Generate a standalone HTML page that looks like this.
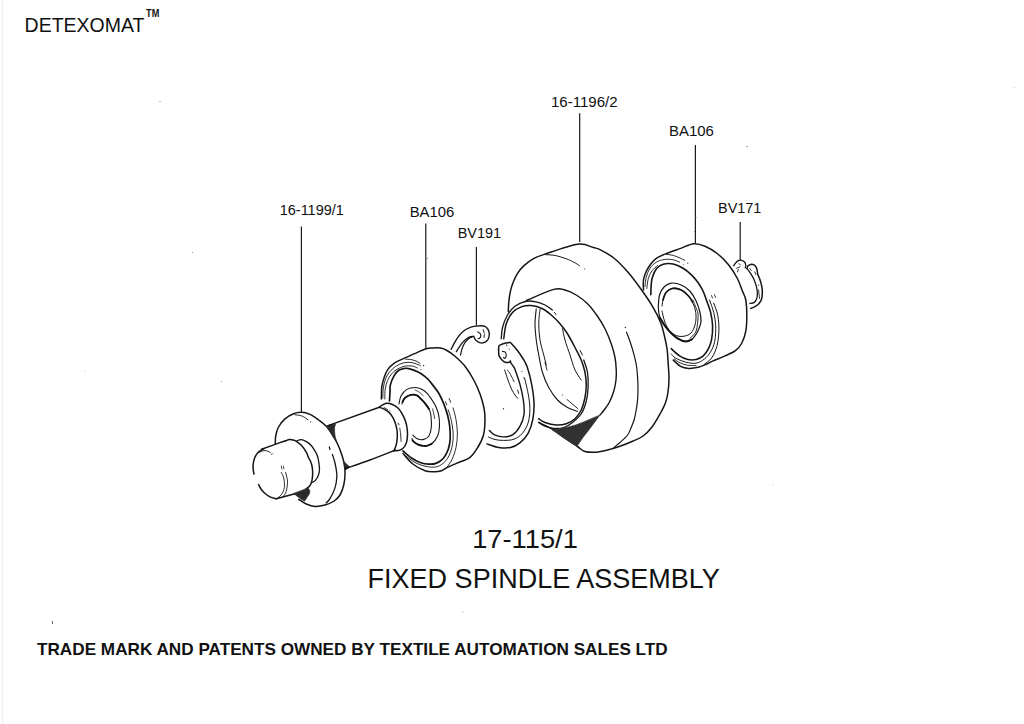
<!DOCTYPE html>
<html><head><meta charset="utf-8"><style>
html,body{margin:0;padding:0;background:#fff;}
body{width:1024px;height:724px;overflow:hidden;}
svg{display:block;}
text{font-family:"Liberation Sans",sans-serif;fill:#111;}
</style></head><body>
<svg width="1024" height="724" viewBox="0 0 1024 724">
<rect width="1024" height="724" fill="#fff"/>
<text id="t1" x="24.6" y="31.8" font-size="20" textLength="119.8" lengthAdjust="spacingAndGlyphs">DETEXOMAT</text>
<text id="t2" x="146.1" y="17.0" font-size="10" font-weight="bold" textLength="13.2" lengthAdjust="spacingAndGlyphs">TM</text>
<text id="t3" x="279.7" y="214.5" font-size="14" textLength="64.2" lengthAdjust="spacingAndGlyphs">16-1199/1</text>
<text id="t4" x="409.7" y="216.5" font-size="14" textLength="44.6" lengthAdjust="spacingAndGlyphs">BA106</text>
<text id="t5" x="457.7" y="237.5" font-size="14" textLength="43.5" lengthAdjust="spacingAndGlyphs">BV191</text>
<text id="t6" x="551.0" y="106.8" font-size="14" textLength="66.6" lengthAdjust="spacingAndGlyphs">16-1196/2</text>
<text id="t7" x="669.0" y="135.7" font-size="14" textLength="44.9" lengthAdjust="spacingAndGlyphs">BA106</text>
<text id="t8" x="718.0" y="213.0" font-size="14" textLength="43.4" lengthAdjust="spacingAndGlyphs">BV171</text>
<text id="t9" x="472.2" y="548" font-size="26.3" textLength="105.7" lengthAdjust="spacingAndGlyphs">17-115/1</text>
<text id="t10" x="367.6" y="588" font-size="27.3" textLength="352.2" lengthAdjust="spacingAndGlyphs">FIXED SPINDLE ASSEMBLY</text>
<text id="t11" x="37.0" y="655.2" font-size="17" font-weight="bold" textLength="630.7" lengthAdjust="spacingAndGlyphs">TRADE MARK AND PATENTS OWNED BY TEXTILE AUTOMATION SALES LTD</text>
<rect x="2" y="0" width="1.2" height="724" fill="#f1f1f1"/>
<path d="M301.40 226.50V412.00" stroke="#1a1a1a" stroke-width="1.20" fill="none"/>
<path d="M425.80 223.50V348.80" stroke="#1a1a1a" stroke-width="1.20" fill="none"/>
<path d="M476.40 247.00V325.80" stroke="#1a1a1a" stroke-width="1.20" fill="none"/>
<path d="M579.70 113.30V242.00" stroke="#1a1a1a" stroke-width="1.20" fill="none"/>
<path d="M695.40 145.00V243.30" stroke="#1a1a1a" stroke-width="1.20" fill="none"/>
<path d="M740.20 222.00V260.50" stroke="#1a1a1a" stroke-width="1.20" fill="none"/>
<path d="M263.75 448.75C262.79 449.38 259.52 450.96 258.00 452.50C256.48 454.04 255.42 455.92 254.60 458.00C253.78 460.08 253.30 462.83 253.10 465.00C252.90 467.17 253.25 469.50 253.40 471.00C253.55 472.50 253.90 473.50 254.00 474.00" fill="none" stroke="#151515" stroke-width="1.50" stroke-linecap="round" stroke-linejoin="round"/>
<path d="M258.50 484.50C258.92 485.25 260.00 487.58 261.00 489.00C262.00 490.42 263.00 491.68 264.50 493.00C266.00 494.32 268.04 495.94 270.00 496.90C271.96 497.86 275.21 498.44 276.25 498.75" fill="none" stroke="#151515" stroke-width="1.50" stroke-linecap="round" stroke-linejoin="round"/>
<path d="M276.25 498.75L295.00 493.75" fill="none" stroke="#151515" stroke-width="1.50" stroke-linecap="round" stroke-linejoin="round"/>
<path d="M261.50 449.30C264.58 448.18 276.08 443.98 280.00 442.60C283.92 441.22 284.17 441.27 285.00 441.00" fill="none" stroke="#151515" stroke-width="1.50" stroke-linecap="round" stroke-linejoin="round"/>
<path d="M281.25 472.50C281.67 473.42 283.23 475.50 283.75 478.00C284.27 480.50 284.77 484.75 284.40 487.50C284.02 490.25 282.65 492.75 281.50 494.50C280.35 496.25 278.17 497.42 277.50 498.00" fill="none" stroke="#151515" stroke-width="0.90" stroke-linecap="round" stroke-linejoin="round"/>
<path d="M285.60 472.50C285.92 473.96 287.39 478.12 287.50 481.25C287.61 484.38 286.98 488.64 286.25 491.25C285.52 493.86 283.62 495.96 283.10 496.90" fill="none" stroke="#151515" stroke-width="0.90" stroke-linecap="round" stroke-linejoin="round"/>
<path d="M281.20 466.20L281.90 469.00" fill="none" stroke="#151515" stroke-width="0.80" stroke-linecap="round" stroke-linejoin="round"/>
<path d="M283.30 466.00L284.00 468.80" fill="none" stroke="#151515" stroke-width="0.80" stroke-linecap="round" stroke-linejoin="round"/>
<path d="M258.75 452.50C259.62 452.18 262.46 450.82 264.00 450.60C265.54 450.38 266.92 450.83 268.00 451.20C269.08 451.57 270.08 452.53 270.50 452.80" fill="none" stroke="#151515" stroke-width="0.90" stroke-linecap="round" stroke-linejoin="round"/>
<circle cx="271.50" cy="454.50" r="0.50" fill="#333"/>
<circle cx="272.80" cy="453.80" r="0.50" fill="#333"/>
<path d="M285.00 441.00C285.80 440.77 288.30 439.72 289.80 439.60C291.30 439.48 292.78 439.93 294.00 440.30C295.22 440.67 295.77 440.85 297.10 441.80C298.43 442.75 300.45 444.25 302.00 446.00C303.55 447.75 305.32 450.38 306.40 452.30C307.48 454.22 307.82 456.00 308.50 457.50C309.18 459.00 309.92 459.88 310.50 461.30C311.08 462.72 311.65 464.38 312.00 466.00C312.35 467.62 312.52 469.25 312.60 471.00C312.68 472.75 312.68 474.62 312.50 476.50C312.32 478.38 312.00 480.68 311.50 482.30C311.00 483.93 310.40 485.18 309.50 486.25C308.60 487.32 306.67 488.29 306.10 488.70" fill="none" stroke="#151515" stroke-width="1.50" stroke-linecap="round" stroke-linejoin="round"/>
<path d="M296.60 441.10C297.33 440.85 299.37 439.52 301.00 439.60C302.63 439.68 304.69 440.62 306.40 441.60C308.11 442.58 309.78 443.87 311.25 445.50C312.72 447.13 314.16 449.65 315.20 451.40C316.24 453.15 316.90 454.18 317.50 456.00C318.10 457.82 318.47 460.03 318.80 462.30C319.13 464.57 319.58 467.40 319.50 469.60C319.42 471.80 318.98 473.70 318.30 475.50C317.62 477.30 316.37 479.27 315.40 480.40C314.43 481.53 312.98 481.98 312.50 482.30" fill="none" stroke="#151515" stroke-width="1.30" stroke-linecap="round" stroke-linejoin="round"/>
<path d="M293.50 493.40L300.00 491.00L308.20 487.90L309.90 490.80L309.50 493.70L307.00 497.50L304.50 501.20L301.50 499.50L298.70 497.40Z" fill="#2a2a2a" stroke="#2a2a2a" stroke-width="0.6" stroke-linejoin="round"/>
<path d="M275.30 443.80C275.37 442.50 275.17 438.80 275.70 436.00C276.23 433.20 276.95 429.85 278.50 427.00C280.05 424.15 282.50 421.10 285.00 418.90C287.50 416.70 290.75 414.90 293.50 413.80C296.25 412.70 298.75 412.20 301.50 412.30C304.25 412.40 307.12 413.12 310.00 414.40C312.88 415.68 316.04 418.02 318.75 420.00C321.46 421.98 323.96 423.75 326.25 426.25C328.54 428.75 330.62 432.08 332.50 435.00C334.38 437.92 335.93 440.42 337.50 443.75C339.07 447.08 340.75 451.46 341.90 455.00C343.05 458.54 343.88 461.67 344.40 465.00C344.92 468.33 345.11 471.67 345.00 475.00C344.89 478.33 344.58 481.67 343.75 485.00C342.92 488.33 341.67 492.29 340.00 495.00C338.33 497.71 336.25 499.58 333.75 501.25C331.25 502.92 328.12 504.14 325.00 505.00C321.88 505.86 318.12 506.57 315.00 506.40C311.88 506.23 308.96 505.15 306.25 504.00C303.54 502.85 300.00 500.25 298.75 499.50" fill="none" stroke="#151515" stroke-width="1.50" stroke-linecap="round" stroke-linejoin="round"/>
<path d="M332.40 454.50C332.83 455.92 334.27 459.78 335.00 463.00C335.73 466.22 336.58 470.63 336.80 473.80C337.02 476.97 336.63 479.57 336.30 482.00C335.97 484.43 335.52 486.23 334.80 488.40C334.08 490.57 332.97 493.07 332.00 495.00C331.03 496.93 329.98 498.68 329.00 500.00C328.02 501.32 326.58 502.42 326.10 502.90" fill="none" stroke="#151515" stroke-width="1.30" stroke-linecap="round" stroke-linejoin="round"/>
<path d="M329.30 446.80L330.00 449.50" fill="none" stroke="#151515" stroke-width="1.20" stroke-linecap="round" stroke-linejoin="round"/>
<path d="M295.00 414.80C296.17 415.00 299.83 415.17 302.00 416.00C304.17 416.83 307.00 419.17 308.00 419.80" fill="none" stroke="#151515" stroke-width="0.90" stroke-linecap="round" stroke-linejoin="round"/>
<circle cx="310.60" cy="421.90" r="0.60" fill="#333"/>
<path d="M326.60 425.80L330.50 424.80L335.60 423.90L334.60 427.50L334.60 432.00L335.20 436.50L336.20 440.20L334.00 437.80L331.80 433.80L329.40 430.00Z" fill="#2a2a2a" stroke="#2a2a2a" stroke-width="0.6" stroke-linejoin="round"/>
<path d="M343.75 461.25L347.50 465.00L350.00 466.90L345.60 470.00L344.40 466.25Z" fill="#2a2a2a" stroke="#2a2a2a" stroke-width="0.6" stroke-linejoin="round"/>
<path d="M328.10 425.60L379.30 407.30" fill="none" stroke="#151515" stroke-width="1.50" stroke-linecap="round" stroke-linejoin="round"/>
<path d="M345.60 468.50C349.67 467.08 361.68 463.08 370.00 460.00C378.32 456.92 391.25 451.67 395.50 450.00" fill="none" stroke="#151515" stroke-width="1.50" stroke-linecap="round" stroke-linejoin="round"/>
<path d="M379.30 407.30C379.68 406.98 380.38 406.07 381.60 405.40C382.82 404.73 384.80 403.45 386.60 403.30C388.40 403.15 390.47 403.67 392.40 404.50C394.33 405.33 396.55 406.70 398.20 408.30C399.85 409.90 401.07 411.90 402.30 414.10C403.53 416.30 404.77 418.88 405.60 421.50C406.43 424.12 407.02 427.03 407.30 429.80C407.58 432.57 407.58 435.60 407.30 438.10C407.02 440.60 406.43 443.00 405.60 444.80C404.77 446.60 403.53 447.93 402.30 448.90C401.07 449.87 399.58 450.32 398.20 450.60C396.82 450.88 394.70 450.60 394.00 450.60" fill="none" stroke="#151515" stroke-width="1.50" stroke-linecap="round" stroke-linejoin="round"/>
<path d="M379.30 407.30C380.10 407.60 382.48 408.25 384.10 409.10C385.72 409.95 387.48 410.88 389.00 412.40C390.52 413.92 392.02 415.98 393.20 418.20C394.38 420.42 395.42 423.22 396.10 425.70C396.78 428.18 397.17 430.48 397.30 433.10C397.43 435.72 397.17 439.18 396.90 441.40C396.63 443.62 396.18 444.87 395.70 446.40C395.22 447.93 394.28 449.90 394.00 450.60" fill="none" stroke="#151515" stroke-width="1.50" stroke-linecap="round" stroke-linejoin="round"/>
<path d="M398.20 423.20L399.00 425.00" fill="none" stroke="#151515" stroke-width="0.90" stroke-linecap="round" stroke-linejoin="round"/>
<path d="M399.80 428.20C399.93 429.17 400.38 431.80 400.60 434.00C400.82 436.20 401.02 440.17 401.10 441.40" fill="none" stroke="#151515" stroke-width="0.90" stroke-linecap="round" stroke-linejoin="round"/>
<circle cx="389.90" cy="410.80" r="0.60" fill="#333"/>
<path d="M384.00 407.50L387.50 409.50" fill="none" stroke="#151515" stroke-width="0.80" stroke-linecap="round" stroke-linejoin="round"/>
<path d="M381.40 399.00C381.40 398.75 381.33 399.55 381.40 397.50C381.47 395.45 381.35 390.00 381.80 386.70C382.25 383.40 383.12 380.55 384.10 377.70C385.08 374.85 386.05 372.00 387.70 369.60C389.35 367.20 391.47 365.08 394.00 363.30C396.53 361.52 399.57 360.47 402.90 358.90C406.23 357.33 410.25 355.55 414.00 353.90C417.75 352.25 422.23 349.98 425.40 349.00C428.57 348.02 430.47 348.15 433.00 348.00C435.53 347.85 438.27 347.68 440.60 348.10C442.93 348.52 444.60 349.14 447.00 350.50C449.40 351.86 452.00 353.62 455.00 356.25C458.00 358.88 461.88 362.29 465.00 366.25C468.12 370.21 471.25 375.38 473.75 380.00C476.25 384.62 478.29 389.33 480.00 394.00C481.71 398.67 483.17 403.67 484.00 408.00C484.83 412.33 485.08 415.50 485.00 420.00C484.92 424.50 484.67 430.50 483.50 435.00C482.33 439.50 480.25 443.28 478.00 447.00C475.75 450.72 473.52 454.62 470.00 457.30C466.48 459.98 460.68 461.42 456.90 463.10C453.12 464.78 449.87 466.12 447.30 467.40C444.73 468.68 443.60 470.07 441.50 470.80C439.40 471.53 437.45 471.80 434.70 471.80C431.95 471.80 428.70 472.14 425.00 470.80C421.30 469.46 416.17 466.63 412.50 463.75C408.83 460.87 404.58 455.21 403.00 453.50" fill="none" stroke="#151515" stroke-width="1.50" stroke-linecap="round" stroke-linejoin="round"/>
<path d="M389.50 401.00C389.58 399.50 389.85 394.68 390.00 392.00C390.15 389.32 389.73 387.58 390.40 384.90C391.07 382.22 392.67 378.30 394.00 375.90C395.33 373.50 396.62 371.77 398.40 370.50C400.18 369.23 402.85 368.58 404.70 368.30C406.55 368.02 407.78 368.42 409.50 368.80C411.22 369.18 413.05 369.78 415.00 370.60C416.95 371.42 419.13 372.35 421.20 373.70C423.27 375.05 425.33 376.63 427.40 378.70C429.47 380.77 431.73 383.72 433.60 386.10C435.47 388.48 437.15 390.62 438.60 393.00C440.05 395.38 441.18 397.90 442.30 400.40C443.42 402.90 444.38 405.40 445.30 408.00C446.22 410.60 447.07 412.95 447.80 416.00C448.53 419.05 449.30 422.48 449.70 426.30C450.10 430.12 450.45 435.03 450.20 438.90C449.95 442.77 449.33 446.28 448.20 449.50C447.07 452.72 445.33 455.93 443.40 458.20C441.47 460.47 439.02 462.10 436.60 463.10C434.18 464.10 431.67 464.30 428.90 464.20C426.13 464.10 422.90 463.53 420.00 462.50C417.10 461.47 414.33 459.92 411.50 458.00C408.67 456.08 404.42 452.17 403.00 451.00" fill="none" stroke="#151515" stroke-width="1.70" stroke-linecap="round" stroke-linejoin="round"/>
<path d="M382.80 398.00C382.88 396.33 382.85 391.17 383.30 388.00C383.75 384.83 384.47 381.67 385.50 379.00C386.53 376.33 387.83 374.08 389.50 372.00C391.17 369.92 393.25 368.00 395.50 366.50C397.75 365.00 400.42 363.67 403.00 363.00C405.58 362.33 408.50 362.25 411.00 362.50C413.50 362.75 416.42 363.92 418.00 364.50C419.58 365.08 420.08 365.75 420.50 366.00" fill="none" stroke="#151515" stroke-width="0.90" stroke-linecap="round" stroke-linejoin="round"/>
<path d="M384.80 399.00C384.87 397.33 384.73 392.08 385.20 389.00C385.67 385.92 386.55 383.00 387.60 380.50C388.65 378.00 389.93 375.87 391.50 374.00C393.07 372.13 394.83 370.60 397.00 369.30C399.17 368.00 402.00 366.75 404.50 366.20C407.00 365.65 409.83 365.70 412.00 366.00C414.17 366.30 416.58 367.67 417.50 368.00" fill="none" stroke="#151515" stroke-width="0.90" stroke-linecap="round" stroke-linejoin="round"/>
<path d="M405.60 359.30C406.50 359.35 409.27 359.32 411.00 359.60C412.73 359.88 414.50 360.38 416.00 361.00C417.50 361.62 419.33 362.92 420.00 363.30" fill="none" stroke="#151515" stroke-width="0.90" stroke-linecap="round" stroke-linejoin="round"/>
<circle cx="423.60" cy="365.50" r="0.70" fill="#333"/>
<circle cx="420.80" cy="369.50" r="0.60" fill="#333"/>
<path d="M448.20 409.80C448.68 411.42 450.28 415.78 451.10 419.50C451.92 423.22 452.85 428.07 453.10 432.10C453.35 436.13 453.25 439.83 452.60 443.70C451.95 447.57 450.73 452.07 449.20 455.30C447.67 458.53 445.67 461.15 443.40 463.10C441.13 465.05 438.67 466.48 435.60 467.00C432.53 467.52 428.43 466.95 425.00 466.20C421.57 465.45 418.17 464.20 415.00 462.50C411.83 460.80 407.50 457.08 406.00 456.00" fill="none" stroke="#151515" stroke-width="0.90" stroke-linecap="round" stroke-linejoin="round"/>
<path d="M453.10 407.90C453.58 409.83 455.28 415.15 456.00 419.50C456.72 423.85 457.40 429.32 457.40 434.00C457.40 438.68 456.88 443.40 456.00 447.60C455.12 451.80 453.55 455.97 452.10 459.20C450.65 462.43 448.10 465.70 447.30 467.00" fill="none" stroke="#151515" stroke-width="0.90" stroke-linecap="round" stroke-linejoin="round"/>
<path d="M445.50 401.70L446.70 404.80" fill="none" stroke="#151515" stroke-width="0.90" stroke-linecap="round" stroke-linejoin="round"/>
<path d="M449.20 398.60L450.70 402.30" fill="none" stroke="#151515" stroke-width="0.90" stroke-linecap="round" stroke-linejoin="round"/>
<path d="M399.00 403.90C399.33 402.57 399.68 398.32 401.00 395.90C402.32 393.48 404.58 390.80 406.90 389.40C409.22 388.00 412.42 387.53 414.90 387.50C417.38 387.47 419.72 388.18 421.80 389.20C423.88 390.22 425.73 391.83 427.40 393.60C429.07 395.37 430.43 397.73 431.80 399.80C433.17 401.87 434.47 403.52 435.60 406.00C436.73 408.48 437.95 411.32 438.60 414.70C439.25 418.08 439.67 422.75 439.50 426.30C439.33 429.85 438.88 433.10 437.60 436.00C436.32 438.90 433.90 442.08 431.80 443.70C429.70 445.32 427.15 445.55 425.00 445.70C422.85 445.85 420.75 445.28 418.90 444.60C417.05 443.92 415.07 442.60 413.90 441.60C412.73 440.60 412.23 439.10 411.90 438.60" fill="none" stroke="#151515" stroke-width="1.10" stroke-linecap="round" stroke-linejoin="round"/>
<path d="M412.50 440.50C413.08 441.00 414.58 442.65 416.00 443.50C417.42 444.35 419.17 445.22 421.00 445.60C422.83 445.98 425.17 446.15 427.00 445.80C428.83 445.45 431.17 443.88 432.00 443.50" fill="none" stroke="#151515" stroke-width="1.80" stroke-linecap="round" stroke-linejoin="round"/>
<path d="M415.00 389.90C415.73 390.30 418.05 391.37 419.40 392.30C420.75 393.23 422.48 394.97 423.10 395.50" fill="none" stroke="#151515" stroke-width="0.80" stroke-linecap="round" stroke-linejoin="round"/>
<path d="M432.70 408.90L434.70 418.50" fill="none" stroke="#151515" stroke-width="0.80" stroke-linecap="round" stroke-linejoin="round"/>
<path d="M402.00 403.90C402.48 402.90 403.42 399.40 404.90 397.90C406.38 396.40 408.90 395.32 410.90 394.90C412.90 394.48 415.18 394.68 416.90 395.40C418.62 396.12 419.65 397.63 421.20 399.20C422.75 400.77 424.85 403.05 426.20 404.80C427.55 406.55 428.53 408.05 429.30 409.70C430.07 411.35 430.47 411.77 430.80 414.70C431.13 417.63 431.62 423.75 431.30 427.30C430.98 430.85 430.15 433.98 428.90 436.00C427.65 438.02 425.63 438.88 423.80 439.40C421.97 439.92 419.72 439.80 417.90 439.10C416.08 438.40 413.73 435.85 412.90 435.20" fill="none" stroke="#151515" stroke-width="1.10" stroke-linecap="round" stroke-linejoin="round"/>
<path d="M402.50 402.00C402.90 401.32 403.50 399.08 404.90 397.90C406.30 396.72 408.90 395.32 410.90 394.90C412.90 394.48 415.18 394.68 416.90 395.40C418.62 396.12 419.65 397.63 421.20 399.20C422.75 400.77 424.90 403.17 426.20 404.80C427.50 406.43 428.53 408.30 429.00 409.00" fill="none" stroke="#151515" stroke-width="1.90" stroke-linecap="round" stroke-linejoin="round"/>
<path d="M451.20 349.30C451.78 348.15 453.35 344.72 454.70 342.40C456.05 340.08 457.65 337.43 459.30 335.40C460.95 333.37 462.75 331.55 464.60 330.20C466.45 328.85 468.47 327.98 470.40 327.30C472.33 326.62 474.47 326.35 476.20 326.10C477.93 325.85 479.35 325.75 480.80 325.80C482.25 325.85 483.73 325.87 484.90 326.40C486.07 326.93 487.08 327.88 487.80 329.00C488.52 330.12 489.02 331.75 489.20 333.10C489.38 334.45 489.23 335.85 488.90 337.10C488.57 338.35 488.07 339.67 487.20 340.60C486.33 341.53 484.97 342.35 483.70 342.70C482.43 343.05 480.85 343.05 479.60 342.70C478.35 342.35 477.07 341.40 476.20 340.60C475.33 339.80 474.83 338.62 474.40 337.90C473.97 337.18 473.73 336.57 473.60 336.30" fill="none" stroke="#151515" stroke-width="1.40" stroke-linecap="round" stroke-linejoin="round"/>
<path d="M473.60 336.30C473.07 336.35 471.62 336.17 470.40 336.60C469.18 337.03 467.67 337.85 466.30 338.90C464.93 339.95 463.45 341.45 462.20 342.90C460.95 344.35 459.77 346.15 458.80 347.60C457.83 349.05 456.80 350.93 456.40 351.60" fill="none" stroke="#151515" stroke-width="1.30" stroke-linecap="round" stroke-linejoin="round"/>
<path d="M472.00 337.20C471.53 337.38 470.35 337.43 469.20 338.30C468.05 339.17 466.27 340.75 465.10 342.40C463.93 344.05 462.97 346.08 462.20 348.20C461.43 350.32 460.78 353.95 460.50 355.10" fill="none" stroke="#151515" stroke-width="1.20" stroke-linecap="round" stroke-linejoin="round"/>
<path d="M477.60 331.90C478.00 332.15 479.47 332.72 480.00 333.40C480.53 334.08 480.83 335.23 480.80 336.00C480.77 336.77 480.23 337.57 479.80 338.00C479.37 338.43 478.47 338.50 478.20 338.60" fill="none" stroke="#151515" stroke-width="1.10" stroke-linecap="round" stroke-linejoin="round"/>
<path d="M483.10 329.60L484.30 333.10" fill="none" stroke="#151515" stroke-width="0.90" stroke-linecap="round" stroke-linejoin="round"/>
<path d="M484.40 334.50L484.00 337.50" fill="none" stroke="#151515" stroke-width="0.90" stroke-linecap="round" stroke-linejoin="round"/>
<path d="M498.60 349.40C498.67 348.80 498.70 346.55 499.00 345.80C499.30 345.05 499.25 345.35 500.40 344.90C501.55 344.45 504.30 343.52 505.90 343.10C507.50 342.68 509.08 342.33 510.00 342.40C510.92 342.47 510.13 342.12 511.40 343.50C512.67 344.88 515.63 348.12 517.60 350.70C519.57 353.28 521.58 356.23 523.20 359.00C524.82 361.77 525.90 363.12 527.30 367.30C528.70 371.48 530.48 378.17 531.60 384.10C532.72 390.03 533.80 397.03 534.00 402.90C534.20 408.77 533.78 414.22 532.80 419.30C531.82 424.38 530.25 429.48 528.10 433.40C525.95 437.32 522.83 440.45 519.90 442.80C516.97 445.15 514.02 446.72 510.50 447.50C506.98 448.28 502.72 448.10 498.80 447.50C494.88 446.90 488.97 444.50 487.00 443.90" fill="none" stroke="#151515" stroke-width="1.50" stroke-linecap="round" stroke-linejoin="round"/>
<path d="M498.60 349.40C498.62 350.00 498.63 351.97 498.70 353.00C498.77 354.03 498.50 354.48 499.00 355.60C499.50 356.72 500.55 358.55 501.70 359.70C502.85 360.85 504.63 362.10 505.90 362.50C507.17 362.90 508.55 362.33 509.30 362.10C510.05 361.87 510.22 361.27 510.40 361.10" fill="none" stroke="#151515" stroke-width="1.50" stroke-linecap="round" stroke-linejoin="round"/>
<path d="M510.40 361.10C510.48 361.38 510.38 361.88 510.90 362.80C511.42 363.72 512.78 365.40 513.50 366.60C514.22 367.80 514.13 367.08 515.20 370.00C516.27 372.92 518.53 379.02 519.90 384.10C521.27 389.18 522.72 395.42 523.40 400.50C524.08 405.58 524.58 410.30 524.00 414.60C523.42 418.90 521.75 422.97 519.90 426.30C518.05 429.63 515.63 432.83 512.90 434.60C510.17 436.37 506.63 436.90 503.50 436.90C500.37 436.90 496.45 435.68 494.10 434.60C491.75 433.52 490.18 431.10 489.40 430.40" fill="none" stroke="#151515" stroke-width="1.40" stroke-linecap="round" stroke-linejoin="round"/>
<path d="M524.60 378.20C525.18 380.75 527.22 388.42 528.10 393.50C528.98 398.58 529.90 403.82 529.90 408.70C529.90 413.58 529.37 418.68 528.10 422.80C526.83 426.92 524.65 430.67 522.30 433.40C519.95 436.13 517.13 438.03 514.00 439.20C510.87 440.37 506.67 440.35 503.50 440.40C500.33 440.45 497.50 440.07 495.00 439.50C492.50 438.93 489.58 437.42 488.50 437.00" fill="none" stroke="#151515" stroke-width="1.00" stroke-linecap="round" stroke-linejoin="round"/>
<path d="M502.40 351.40C502.87 351.52 504.57 351.40 505.20 352.10C505.83 352.80 506.25 354.57 506.20 355.60C506.15 356.63 505.35 357.97 504.90 358.30C504.45 358.63 503.73 357.72 503.50 357.60" fill="none" stroke="#151515" stroke-width="1.10" stroke-linecap="round" stroke-linejoin="round"/>
<circle cx="509.30" cy="349.00" r="0.60" fill="#333"/>
<circle cx="521.80" cy="371.50" r="0.60" fill="#333"/>
<circle cx="523.90" cy="377.70" r="0.60" fill="#333"/>
<path d="M506.60 344.80L506.90 345.90" fill="none" stroke="#151515" stroke-width="0.80" stroke-linecap="round" stroke-linejoin="round"/>
<path d="M504.60 370.00C505.17 371.67 506.85 376.83 508.00 380.00C509.15 383.17 510.33 386.50 511.50 389.00C512.67 391.50 513.98 393.47 515.00 395.00C516.02 396.53 517.17 397.67 517.60 398.20" fill="none" stroke="#151515" stroke-width="1.00" stroke-linecap="round" stroke-linejoin="round"/>
<path d="M507.30 370.10C507.63 370.47 508.55 371.15 509.30 372.30C510.05 373.45 511.02 375.43 511.80 377.00C512.58 378.57 513.63 380.92 514.00 381.70" fill="none" stroke="#151515" stroke-width="0.90" stroke-linecap="round" stroke-linejoin="round"/>
<path d="M517.60 390.00L518.70 393.50" fill="none" stroke="#151515" stroke-width="0.90" stroke-linecap="round" stroke-linejoin="round"/>
<circle cx="503.50" cy="408.70" r="0.70" fill="#333"/>
<path d="M508.30 311.80C508.38 310.15 508.43 305.40 508.80 301.90C509.17 298.40 509.75 294.12 510.50 290.80C511.25 287.48 512.10 284.95 513.30 282.00C514.50 279.05 515.87 275.87 517.70 273.10C519.53 270.33 521.73 267.78 524.30 265.40C526.87 263.02 529.78 260.63 533.10 258.80C536.42 256.97 536.78 256.83 544.20 254.40C551.62 251.97 569.40 245.33 577.60 244.20C585.80 243.07 589.67 246.68 593.40 247.60C597.13 248.52 596.60 247.97 600.00 249.70C603.40 251.43 609.20 254.32 613.80 258.00C618.40 261.68 623.00 266.52 627.60 271.80C632.20 277.08 637.25 283.95 641.40 289.70C645.55 295.45 649.27 300.77 652.50 306.30C655.73 311.83 658.73 317.62 660.80 322.90C662.87 328.18 663.83 333.48 664.90 338.00C665.97 342.52 666.67 345.92 667.20 350.00C667.73 354.08 667.80 357.83 668.10 362.50C668.40 367.17 669.02 373.08 669.00 378.00C668.98 382.92 668.57 387.92 668.00 392.00C667.43 396.08 666.93 398.83 665.60 402.50C664.27 406.17 662.27 409.92 660.00 414.00C657.73 418.08 654.82 423.33 652.00 427.00C649.18 430.67 646.35 433.62 643.10 436.00C639.85 438.38 636.35 439.54 632.50 441.25C628.65 442.96 624.17 444.79 620.00 446.25C615.83 447.71 611.46 449.01 607.50 450.00C603.54 450.99 600.00 451.95 596.25 452.20C592.50 452.45 588.12 452.45 585.00 451.50C581.88 450.55 580.67 448.58 577.50 446.50C574.33 444.42 569.96 441.75 566.00 439.00C562.04 436.25 557.25 432.25 553.75 430.00C550.25 427.75 547.50 426.78 545.00 425.50C542.50 424.22 539.79 422.83 538.75 422.30" fill="none" stroke="#151515" stroke-width="1.50" stroke-linecap="round" stroke-linejoin="round"/>
<path d="M544.80 254.60C546.53 254.75 551.62 254.80 555.20 255.50C558.78 256.20 563.17 257.67 566.30 258.80C569.43 259.93 571.82 261.17 574.00 262.30C576.18 263.43 578.50 265.05 579.40 265.60" fill="none" stroke="#151515" stroke-width="1.00" stroke-linecap="round" stroke-linejoin="round"/>
<circle cx="584.60" cy="269.00" r="0.60" fill="#333"/>
<path d="M526.25 300.50C530.83 298.65 547.29 291.15 553.75 289.40C560.21 287.65 561.25 289.07 565.00 290.00C568.75 290.93 572.50 292.71 576.25 295.00C580.00 297.29 583.96 300.21 587.50 303.75C591.04 307.29 594.58 312.08 597.50 316.25C600.42 320.42 602.71 324.17 605.00 328.75C607.29 333.33 609.58 338.96 611.25 343.75C612.92 348.54 614.17 353.12 615.00 357.50C615.83 361.88 616.08 366.25 616.25 370.00C616.42 373.75 616.41 376.50 616.00 380.00C615.59 383.50 614.88 387.33 613.80 391.00C612.72 394.67 611.05 398.92 609.50 402.00C607.95 405.08 606.07 407.35 604.50 409.50C602.93 411.65 600.83 414.00 600.10 414.90" fill="none" stroke="#151515" stroke-width="1.40" stroke-linecap="round" stroke-linejoin="round"/>
<path d="M501.25 338.75C501.46 336.88 501.46 331.46 502.50 327.50C503.54 323.54 505.42 318.54 507.50 315.00C509.58 311.46 511.88 308.54 515.00 306.25C518.12 303.96 522.71 301.98 526.25 301.25C529.79 300.52 533.12 301.27 536.25 301.90C539.38 302.52 542.29 303.65 545.00 305.00C547.71 306.35 551.25 309.17 552.50 310.00" fill="none" stroke="#151515" stroke-width="1.30" stroke-linecap="round" stroke-linejoin="round"/>
<path d="M554.50 312.50L556.00 314.50" fill="none" stroke="#151515" stroke-width="1.00" stroke-linecap="round" stroke-linejoin="round"/>
<path d="M580.00 350.50L582.50 355.00" fill="none" stroke="#151515" stroke-width="1.00" stroke-linecap="round" stroke-linejoin="round"/>
<path d="M583.75 360.00C584.38 362.08 586.77 367.92 587.50 372.50C588.23 377.08 588.31 382.71 588.10 387.50C587.89 392.29 587.39 396.88 586.25 401.25C585.11 405.62 583.54 410.21 581.25 413.75C578.96 417.29 575.42 420.21 572.50 422.50C569.58 424.79 566.88 426.53 563.75 427.50C560.62 428.47 556.88 428.51 553.75 428.30C550.62 428.09 547.50 427.22 545.00 426.25C542.50 425.28 539.79 423.12 538.75 422.50" fill="none" stroke="#151515" stroke-width="1.30" stroke-linecap="round" stroke-linejoin="round"/>
<path d="M503.75 338.75C504.17 336.25 504.79 328.12 506.25 323.75C507.71 319.38 510.00 315.31 512.50 312.50C515.00 309.69 518.12 308.05 521.25 306.90C524.38 305.75 527.71 305.29 531.25 305.60C534.79 305.91 539.17 307.18 542.50 308.75C545.83 310.32 548.33 312.50 551.25 315.00C554.17 317.50 557.29 320.62 560.00 323.75C562.71 326.88 565.00 329.79 567.50 333.75C570.00 337.71 572.71 343.12 575.00 347.50C577.29 351.88 579.58 355.83 581.25 360.00C582.92 364.17 584.17 368.33 585.00 372.50C585.83 376.67 586.25 380.83 586.25 385.00C586.25 389.17 585.83 393.33 585.00 397.50C584.17 401.67 582.92 406.46 581.25 410.00C579.58 413.54 577.50 416.46 575.00 418.75C572.50 421.04 569.38 422.71 566.25 423.75C563.12 424.79 559.79 425.21 556.25 425.00C552.71 424.79 547.92 423.54 545.00 422.50C542.08 421.46 539.79 419.38 538.75 418.75" fill="none" stroke="#151515" stroke-width="1.50" stroke-linecap="round" stroke-linejoin="round"/>
<path d="M536.25 308.75C536.04 311.25 535.00 318.54 535.00 323.75C535.00 328.96 535.62 334.79 536.25 340.00C536.88 345.21 537.71 349.58 538.75 355.00C539.79 360.42 540.83 367.08 542.50 372.50C544.17 377.92 546.25 382.92 548.75 387.50C551.25 392.08 554.38 396.67 557.50 400.00C560.62 403.33 564.17 405.62 567.50 407.50C570.83 409.38 575.83 410.67 577.50 411.30" fill="none" stroke="#151515" stroke-width="1.10" stroke-linecap="round" stroke-linejoin="round"/>
<path d="M540.00 309.40C539.79 311.79 538.75 318.65 538.75 323.75C538.75 328.85 539.17 334.79 540.00 340.00C540.83 345.21 542.71 350.83 543.75 355.00C544.79 359.17 545.83 363.33 546.25 365.00" fill="none" stroke="#151515" stroke-width="1.00" stroke-linecap="round" stroke-linejoin="round"/>
<path d="M562.50 328.75C562.92 330.62 563.75 335.62 565.00 340.00C566.25 344.38 568.33 350.00 570.00 355.00C571.67 360.00 573.12 365.83 575.00 370.00C576.88 374.17 580.21 378.33 581.25 380.00" fill="none" stroke="#151515" stroke-width="1.00" stroke-linecap="round" stroke-linejoin="round"/>
<path d="M567.00 399.50L578.00 408.75" fill="none" stroke="#151515" stroke-width="0.90" stroke-linecap="round" stroke-linejoin="round"/>
<path d="M545.00 362.50L547.00 370.00" fill="none" stroke="#151515" stroke-width="0.90" stroke-linecap="round" stroke-linejoin="round"/>
<circle cx="562.50" cy="395.00" r="0.60" fill="#333"/>
<circle cx="625.40" cy="327.50" r="0.80" fill="#333"/>
<path d="M626.50 332.10C627.17 333.92 629.22 339.13 630.50 343.00C631.78 346.87 633.20 351.47 634.20 355.30C635.20 359.13 635.93 362.32 636.50 366.00C637.07 369.68 637.35 373.73 637.60 377.40C637.85 381.07 638.00 384.30 638.00 388.00C638.00 391.70 637.90 395.93 637.60 399.60C637.30 403.27 636.77 406.68 636.20 410.00C635.63 413.32 635.07 416.50 634.20 419.50C633.33 422.50 632.10 425.42 631.00 428.00C629.90 430.58 629.43 432.58 627.60 435.00C625.77 437.42 622.27 440.42 620.00 442.50C617.73 444.58 615.00 446.67 614.00 447.50" fill="none" stroke="#151515" stroke-width="1.20" stroke-linecap="round" stroke-linejoin="round"/>
<path d="M552.00 429.80L560.00 428.60L568.00 427.00L575.00 425.20L581.00 423.00L590.00 419.20L600.10 414.90L590.00 428.50L583.00 437.50L576.90 446.40L566.00 439.00Z" fill="#313131" stroke="#313131" stroke-width="0.6" stroke-linejoin="round"/>
<path d="M643.50 290.00C643.47 288.72 643.20 284.42 643.30 282.30C643.40 280.18 643.55 279.23 644.10 277.30C644.65 275.37 645.48 272.92 646.60 270.70C647.72 268.48 649.13 266.08 650.80 264.00C652.47 261.92 654.25 259.85 656.60 258.20C658.95 256.55 661.00 255.70 664.90 254.10C668.80 252.50 675.19 250.32 680.00 248.60C684.81 246.88 689.58 244.14 693.75 243.75C697.92 243.36 701.04 244.58 705.00 246.25C708.96 247.92 713.54 250.62 717.50 253.75C721.46 256.88 725.42 260.83 728.75 265.00C732.08 269.17 735.21 274.38 737.50 278.75C739.79 283.12 741.12 287.71 742.50 291.25C743.88 294.79 745.08 295.96 745.80 300.00C746.52 304.04 746.80 310.32 746.80 315.50C746.80 320.68 746.67 326.43 745.80 331.10C744.93 335.77 743.33 340.23 741.60 343.50C739.87 346.77 738.15 348.63 735.40 350.70C732.65 352.77 728.90 354.17 725.10 355.90C721.30 357.63 715.72 359.72 712.60 361.10C709.48 362.48 708.82 363.17 706.40 364.20C703.98 365.23 701.03 366.60 698.10 367.30C695.17 368.00 691.73 368.57 688.80 368.40C685.87 368.23 683.08 367.68 680.50 366.30C677.92 364.92 674.50 361.13 673.30 360.10" fill="none" stroke="#151515" stroke-width="1.50" stroke-linecap="round" stroke-linejoin="round"/>
<path d="M650.80 294.70C650.87 293.08 650.93 287.90 651.20 285.00C651.47 282.10 651.50 280.05 652.40 277.30C653.30 274.55 654.80 270.67 656.60 268.50C658.40 266.33 660.45 265.05 663.20 264.30C665.95 263.55 669.78 263.35 673.10 264.00C676.42 264.65 680.05 266.40 683.10 268.20C686.15 270.00 688.92 272.42 691.40 274.80C693.88 277.18 696.07 279.80 698.00 282.50C699.93 285.20 701.60 288.08 703.00 291.00C704.40 293.92 705.13 296.43 706.40 300.00C707.67 303.57 709.57 308.08 710.60 312.40C711.63 316.72 712.43 321.40 712.60 325.90C712.77 330.40 712.28 335.60 711.60 339.40C710.92 343.20 709.88 345.95 708.50 348.70C707.12 351.45 705.37 354.10 703.30 355.90C701.23 357.70 698.68 358.90 696.10 359.50C693.52 360.10 690.57 360.10 687.80 359.50C685.03 358.90 682.27 357.70 679.50 355.90C676.73 354.10 672.58 349.90 671.20 348.70" fill="none" stroke="#151515" stroke-width="1.60" stroke-linecap="round" stroke-linejoin="round"/>
<path d="M645.00 286.40C645.20 284.88 645.37 280.33 646.20 277.30C647.03 274.27 648.27 270.75 650.00 268.20C651.73 265.65 654.12 263.47 656.60 262.00C659.08 260.53 662.15 259.77 664.90 259.40C667.65 259.03 670.62 259.33 673.10 259.80C675.58 260.27 678.68 261.80 679.80 262.20" fill="none" stroke="#151515" stroke-width="0.90" stroke-linecap="round" stroke-linejoin="round"/>
<path d="M646.80 288.50C647.05 286.83 647.47 281.42 648.30 278.50C649.13 275.58 650.27 273.15 651.80 271.00C653.33 268.85 656.55 266.50 657.50 265.60" fill="none" stroke="#151515" stroke-width="0.90" stroke-linecap="round" stroke-linejoin="round"/>
<path d="M666.50 254.50C667.25 254.57 669.48 254.62 671.00 254.90C672.52 255.18 674.10 255.68 675.60 256.20C677.10 256.72 678.48 257.32 680.00 258.00C681.52 258.68 683.92 259.92 684.70 260.30" fill="none" stroke="#151515" stroke-width="0.90" stroke-linecap="round" stroke-linejoin="round"/>
<path d="M709.50 300.00C710.20 302.07 712.67 308.08 713.70 312.40C714.73 316.72 715.53 321.07 715.70 325.90C715.87 330.73 715.55 337.08 714.70 341.40C713.85 345.72 712.32 348.87 710.60 351.80C708.88 354.73 706.82 357.10 704.40 359.00C701.98 360.90 699.22 362.68 696.10 363.20C692.98 363.72 689.15 362.97 685.70 362.10C682.25 361.23 677.82 359.37 675.40 358.00C672.98 356.63 671.90 354.58 671.20 353.90" fill="none" stroke="#151515" stroke-width="1.00" stroke-linecap="round" stroke-linejoin="round"/>
<path d="M713.70 303.10C714.38 305.17 716.93 310.83 717.80 315.50C718.67 320.17 719.07 325.92 718.90 331.10C718.73 336.28 718.02 342.12 716.80 346.60C715.58 351.08 713.67 355.07 711.60 358.00C709.53 360.93 705.60 363.17 704.40 364.20" fill="none" stroke="#151515" stroke-width="1.00" stroke-linecap="round" stroke-linejoin="round"/>
<path d="M674.30 359.00C675.25 359.63 677.72 361.75 680.00 362.80C682.28 363.85 685.33 364.85 688.00 365.30C690.67 365.75 694.67 365.47 696.00 365.50" fill="none" stroke="#151515" stroke-width="0.90" stroke-linecap="round" stroke-linejoin="round"/>
<path d="M711.50 295.50L712.50 298.00" fill="none" stroke="#151515" stroke-width="0.80" stroke-linecap="round" stroke-linejoin="round"/>
<path d="M714.50 294.50L715.50 297.50" fill="none" stroke="#151515" stroke-width="0.80" stroke-linecap="round" stroke-linejoin="round"/>
<path d="M658.30 306.40C658.50 304.50 658.55 298.23 659.50 295.00C660.45 291.77 662.04 288.98 664.00 287.00C665.96 285.02 668.38 283.43 671.25 283.10C674.12 282.77 678.12 283.64 681.25 285.00C684.38 286.36 687.50 288.54 690.00 291.25C692.50 293.96 694.58 297.71 696.25 301.25C697.92 304.79 699.21 309.17 700.00 312.50C700.79 315.83 701.13 318.67 701.00 321.25C700.87 323.83 700.02 325.84 699.20 328.00C698.38 330.16 697.32 332.30 696.10 334.20C694.88 336.10 693.63 338.20 691.90 339.40C690.17 340.60 688.12 341.58 685.70 341.40C683.28 341.22 679.98 339.85 677.40 338.30C674.82 336.75 672.27 334.17 670.20 332.10C668.13 330.03 666.78 328.58 665.00 325.90C663.22 323.22 660.62 319.25 659.50 316.00C658.38 312.75 658.50 308.00 658.30 306.40" fill="none" stroke="#151515" stroke-width="1.20" stroke-linecap="round" stroke-linejoin="round"/>
<path d="M660.00 318.00C660.83 319.32 663.30 323.55 665.00 325.90C666.70 328.25 668.13 330.03 670.20 332.10C672.27 334.17 674.82 336.75 677.40 338.30C679.98 339.85 683.28 341.22 685.70 341.40C688.12 341.58 690.87 339.73 691.90 339.40" fill="none" stroke="#151515" stroke-width="2.00" stroke-linecap="round" stroke-linejoin="round"/>
<path d="M692.90 300.00C693.43 301.33 695.23 305.42 696.10 308.00C696.97 310.58 698.10 311.65 698.10 315.50C698.10 319.35 697.47 327.30 696.10 331.10C694.73 334.90 690.93 337.10 689.90 338.30" fill="none" stroke="#151515" stroke-width="0.90" stroke-linecap="round" stroke-linejoin="round"/>
<path d="M662.00 306.00C662.33 304.33 662.92 298.67 664.00 296.00C665.08 293.33 666.75 291.33 668.50 290.00C670.25 288.67 672.38 288.00 674.50 288.00C676.62 288.00 678.88 288.62 681.25 290.00C683.62 291.38 686.67 293.75 688.75 296.25C690.83 298.75 692.54 301.88 693.75 305.00C694.96 308.12 695.79 311.67 696.00 315.00C696.21 318.33 695.83 322.00 695.00 325.00C694.17 328.00 692.83 331.13 691.00 333.00C689.17 334.87 686.50 335.78 684.00 336.20C681.50 336.62 678.50 336.53 676.00 335.50C673.50 334.47 670.92 332.42 669.00 330.00C667.08 327.58 665.67 324.17 664.50 321.00C663.33 317.83 662.42 312.67 662.00 311.00" fill="none" stroke="#151515" stroke-width="1.00" stroke-linecap="round" stroke-linejoin="round"/>
<path d="M663.00 300.00C663.50 298.75 664.42 294.42 666.00 292.50C667.58 290.58 669.96 288.92 672.50 288.50C675.04 288.08 678.54 288.71 681.25 290.00C683.96 291.29 686.88 294.25 688.75 296.25C690.62 298.25 691.88 301.04 692.50 302.00" fill="none" stroke="#151515" stroke-width="1.70" stroke-linecap="round" stroke-linejoin="round"/>
<circle cx="687.80" cy="263.20" r="0.60" fill="#333"/>
<circle cx="683.60" cy="264.80" r="0.50" fill="#333"/>
<path d="M733.70 265.70C734.05 265.22 735.03 263.63 735.80 262.80C736.57 261.97 737.33 261.12 738.30 260.70C739.27 260.28 740.57 260.08 741.60 260.30C742.63 260.52 743.80 261.17 744.50 262.00C745.20 262.83 745.67 264.33 745.80 265.30C745.93 266.27 745.38 267.38 745.30 267.80" fill="none" stroke="#151515" stroke-width="1.30" stroke-linecap="round" stroke-linejoin="round"/>
<path d="M747.00 268.60C747.13 268.18 747.18 266.80 747.80 266.10C748.42 265.40 749.67 264.60 750.70 264.40C751.73 264.20 753.03 264.33 754.00 264.90C754.97 265.47 755.93 266.63 756.50 267.80C757.07 268.97 757.18 270.80 757.40 271.90C757.62 273.00 757.38 273.15 757.80 274.40C758.22 275.65 759.22 277.33 759.90 279.40C760.58 281.47 761.50 284.45 761.90 286.80C762.30 289.15 762.37 291.42 762.30 293.50C762.23 295.58 762.05 297.65 761.50 299.30C760.95 300.95 760.10 302.17 759.00 303.40C757.90 304.63 756.28 305.87 754.90 306.70C753.52 307.53 751.40 308.12 750.70 308.40" fill="none" stroke="#151515" stroke-width="1.50" stroke-linecap="round" stroke-linejoin="round"/>
<path d="M747.00 268.60C747.62 269.43 749.53 271.80 750.70 273.60C751.87 275.40 753.03 277.20 754.00 279.40C754.97 281.60 755.93 284.45 756.50 286.80C757.07 289.15 757.40 291.42 757.40 293.50C757.40 295.58 757.07 297.78 756.50 299.30C755.93 300.82 755.10 301.92 754.00 302.60C752.90 303.28 750.58 303.27 749.90 303.40" fill="none" stroke="#151515" stroke-width="1.30" stroke-linecap="round" stroke-linejoin="round"/>
<path d="M739.10 263.60L740.30 265.00" fill="none" stroke="#151515" stroke-width="0.90" stroke-linecap="round" stroke-linejoin="round"/>
<path d="M736.60 268.20L739.90 266.90" fill="none" stroke="#151515" stroke-width="0.90" stroke-linecap="round" stroke-linejoin="round"/>
<path d="M737.50 271.90L738.30 269.40" fill="none" stroke="#151515" stroke-width="0.90" stroke-linecap="round" stroke-linejoin="round"/>
<path d="M749.90 268.60L751.20 270.50" fill="none" stroke="#151515" stroke-width="0.90" stroke-linecap="round" stroke-linejoin="round"/>
<path d="M754.90 271.90L755.70 274.40" fill="none" stroke="#151515" stroke-width="0.90" stroke-linecap="round" stroke-linejoin="round"/>
<path d="M758.60 290.00C758.67 290.67 758.83 292.58 759.00 294.00C759.17 295.42 759.50 297.75 759.60 298.50" fill="none" stroke="#151515" stroke-width="0.90" stroke-linecap="round" stroke-linejoin="round"/>
<circle cx="758.60" cy="285.20" r="0.60" fill="#333"/>
<circle cx="160.0" cy="101.5" r="0.60" fill="#777"/>
<circle cx="747.0" cy="146.5" r="0.70" fill="#777"/>
<circle cx="192.5" cy="252.5" r="0.50" fill="#777"/>
<circle cx="221.5" cy="381.5" r="0.50" fill="#777"/>
<circle cx="85.0" cy="371.0" r="0.40" fill="#777"/>
<circle cx="427.5" cy="258.5" r="0.60" fill="#777"/>
<circle cx="696.0" cy="217.5" r="0.60" fill="#777"/>
<circle cx="694.5" cy="231.5" r="0.50" fill="#777"/>
<circle cx="463.0" cy="612.0" r="0.50" fill="#777"/>
<circle cx="773.0" cy="485.0" r="0.40" fill="#777"/>
<circle cx="1014.5" cy="87.5" r="0.40" fill="#777"/>
<rect x="52" y="621" width="1" height="3" fill="#666"/>
</svg>
</body></html>
